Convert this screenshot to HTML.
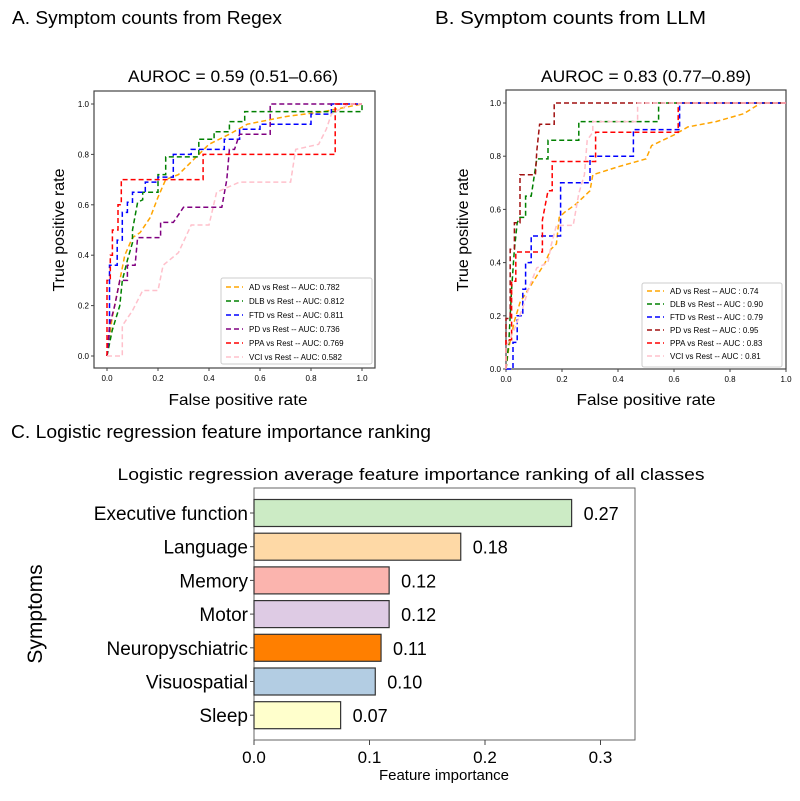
<!DOCTYPE html>
<html><head><meta charset="utf-8"><style>
body{margin:0;background:#fff;width:800px;height:796px;overflow:hidden}
svg{font-family:"Liberation Sans",sans-serif}
</style></head><body>
<svg id="fig" width="800" height="796" viewBox="0 0 800 796">
<text x="12" y="24" font-size="18" textLength="270" lengthAdjust="spacingAndGlyphs">A. Symptom counts from Regex</text>
<text x="435" y="24" font-size="18" textLength="271" lengthAdjust="spacingAndGlyphs">B. Symptom counts from LLM</text>
<text x="233" y="82" font-size="17" text-anchor="middle" textLength="210" lengthAdjust="spacingAndGlyphs">AUROC = 0.59 (0.51–0.66)</text>
<text x="646" y="82" font-size="17" text-anchor="middle" textLength="210" lengthAdjust="spacingAndGlyphs">AUROC = 0.83 (0.77–0.89)</text>
<text x="238" y="405" font-size="16" text-anchor="middle" textLength="139" lengthAdjust="spacingAndGlyphs">False positive rate</text>
<text x="646" y="405" font-size="16" text-anchor="middle" textLength="139" lengthAdjust="spacingAndGlyphs">False positive rate</text>
<text transform="translate(64,230) rotate(-90)" font-size="16" text-anchor="middle">True positive rate</text>
<text transform="translate(468,230) rotate(-90)" font-size="16" text-anchor="middle">True positive rate</text>
<text x="11" y="438" font-size="18" textLength="420" lengthAdjust="spacingAndGlyphs">C. Logistic regression feature importance ranking</text>
<text x="411" y="480" font-size="17" text-anchor="middle" textLength="587" lengthAdjust="spacingAndGlyphs">Logistic regression average feature importance ranking of all classes</text>
<text transform="translate(42,614) rotate(-90)" font-size="21" text-anchor="middle">Symptoms</text>
<text x="444" y="780" font-size="15" text-anchor="middle">Feature importance</text>
<g id="gA"></g><g id="gB"></g><g id="gC"></g>
</svg>
<script>
const seriesNames=["AD","DLB","FTD","PD","PPA","VCI"];
const colorsA=["orange","green","blue","purple","red","pink"];
const colorsB=["orange","green","blue","#a01010","red","pink"];
const aucA=["0.782","0.812","0.811","0.736","0.769","0.582"];
const aucB=["0.74","0.90","0.79","0.95","0.83","0.81"];
const rocA_AD=[[0,0],[0.02,0.15],[0.05,0.3],[0.07,0.4],[0.1,0.47],[0.13,0.49],[0.17,0.55],[0.2,0.63],[0.23,0.7],[0.28,0.72],[0.35,0.79],[0.4,0.84],[0.48,0.88],[0.55,0.92],[0.7,0.95],[0.85,0.97],[1,1]];
const rocA_DLB=[[0,0],[0.02,0.1],[0.05,0.2],[0.06,0.3],[0.08,0.38],[0.1,0.45],[0.1,0.5],[0.12,0.61],[0.14,0.62],[0.14,0.65],[0.2,0.65],[0.2,0.72],[0.23,0.72],[0.23,0.79],[0.36,0.79],[0.36,0.86],[0.42,0.86],[0.42,0.89],[0.48,0.89],[0.48,0.93],[0.54,0.93],[0.54,0.97],[1,0.97],[1,1]];
const rocA_FTD=[[0,0],[0.01,0.1],[0.01,0.36],[0.04,0.36],[0.04,0.46],[0.06,0.46],[0.06,0.57],[0.08,0.57],[0.08,0.61],[0.1,0.61],[0.1,0.65],[0.15,0.65],[0.15,0.69],[0.2,0.69],[0.2,0.71],[0.26,0.71],[0.26,0.8],[0.33,0.8],[0.33,0.82],[0.46,0.82],[0.46,0.86],[0.52,0.86],[0.52,0.9],[0.6,0.9],[0.6,0.92],[0.8,0.92],[0.8,0.96],[0.88,0.96],[0.88,1],[1,1]];
const rocA_PD=[[0,0],[0.01,0.12],[0.03,0.2],[0.05,0.3],[0.08,0.3],[0.08,0.36],[0.11,0.36],[0.12,0.47],[0.21,0.47],[0.21,0.53],[0.26,0.53],[0.3,0.59],[0.45,0.59],[0.47,0.7],[0.48,0.82],[0.5,0.82],[0.52,0.88],[0.64,0.88],[0.64,1],[1,1]];
const rocA_PPA=[[0,0],[0,0.3],[0.013,0.3],[0.013,0.4],[0.021,0.4],[0.021,0.5],[0.043,0.5],[0.043,0.6],[0.056,0.6],[0.056,0.7],[0.377,0.7],[0.377,0.8],[0.895,0.8],[0.895,1],[1,1]];
const rocA_VCI=[[0,0],[0.06,0],[0.06,0.12],[0.1,0.18],[0.14,0.26],[0.2,0.26],[0.22,0.36],[0.28,0.41],[0.33,0.52],[0.4,0.52],[0.43,0.65],[0.52,0.69],[0.72,0.69],[0.74,0.82],[0.83,0.84],[0.86,0.9],[0.88,0.96],[0.95,1],[1,1]];
const rocB_AD=[[0,0],[0.01,0.08],[0.03,0.18],[0.05,0.25],[0.08,0.3],[0.11,0.35],[0.14,0.4],[0.16,0.45],[0.18,0.47],[0.19,0.57],[0.21,0.59],[0.25,0.62],[0.3,0.67],[0.31,0.73],[0.4,0.76],[0.5,0.79],[0.52,0.84],[0.6,0.88],[0.65,0.91],[0.75,0.93],[0.85,0.96],[0.91,1],[1,1]];
const rocB_DLB=[[0,0],[0.01,0.1],[0.02,0.3],[0.03,0.45],[0.04,0.55],[0.05,0.57],[0.07,0.57],[0.07,0.65],[0.09,0.65],[0.1,0.72],[0.11,0.79],[0.15,0.79],[0.15,0.86],[0.26,0.86],[0.26,0.93],[0.545,0.93],[0.545,1],[1,1]];
const rocB_FTD=[[0,0],[0.025,0],[0.025,0.1],[0.04,0.1],[0.04,0.2],[0.06,0.2],[0.06,0.3],[0.07,0.3],[0.07,0.4],[0.09,0.4],[0.09,0.5],[0.195,0.5],[0.195,0.7],[0.3,0.7],[0.3,0.8],[0.455,0.8],[0.455,0.9],[0.62,0.9],[0.62,1],[1,1]];
const rocB_PD=[[0,0],[0,0.19],[0.015,0.19],[0.015,0.45],[0.03,0.45],[0.03,0.55],[0.05,0.55],[0.05,0.73],[0.105,0.73],[0.11,0.82],[0.12,0.92],[0.172,0.92],[0.172,1],[1,1]];
const rocB_PPA=[[0,0],[0,0.11],[0.02,0.11],[0.02,0.33],[0.035,0.33],[0.035,0.44],[0.13,0.44],[0.13,0.56],[0.15,0.67],[0.165,0.67],[0.165,0.78],[0.32,0.78],[0.32,0.89],[0.615,0.89],[0.615,1],[1,1]];
const rocB_VCI=[[0,0],[0,0.08],[0.03,0.15],[0.06,0.23],[0.08,0.3],[0.11,0.38],[0.15,0.4],[0.16,0.46],[0.18,0.54],[0.24,0.54],[0.26,0.66],[0.28,0.73],[0.29,0.86],[0.31,0.89],[0.31,0.93],[0.47,0.93],[0.47,1],[1,1]];
const rocTicks=[0,0.2,0.4,0.6,0.8,1.0];
const barCategories=["Executive function","Language","Memory","Motor","Neuropyschiatric","Visuospatial","Sleep"];
const barValues=[0.275,0.179,0.117,0.117,0.110,0.105,0.075];
const barLabels=["0.27","0.18","0.12","0.12","0.11","0.10","0.07"];
const barColors=["#ccebc5","#fed9a6","#fbb4ae","#decbe4","#ff7f00","#b3cde3","#ffffcc"];
const barTicks=[0,0.1,0.2,0.3];
const barTickLabels=["0.0","0.1","0.2","0.3"];

const NS="http://www.w3.org/2000/svg";
function mk(p,tag,at){const e=document.createElementNS(NS,tag);for(const k in at)e.setAttribute(k,at[k]);p.appendChild(e);return e;}

function roc(g,frame,xs,ys,series,colors,aucs,sep,leg,tickFs,key){
  mk(g,'rect',{x:frame[0],y:frame[1],width:frame[2]-frame[0],height:frame[3]-frame[1],fill:'none',stroke:'#444','stroke-width':1.2});
  rocTicks.forEach(t=>{
    const x=xs(t),y=ys(t);
    let e=mk(g,'line',{x1:x,x2:x,y1:frame[3],y2:frame[3]+3,stroke:'#444'});
    
    e=mk(g,'text',{x:x,y:frame[3]+13,'font-size':tickFs,'text-anchor':'middle'});e.textContent=t.toFixed(1);
    
    e=mk(g,'line',{x1:frame[0]-3,x2:frame[0],y1:y,y2:y,stroke:'#444'});
    
    e=mk(g,'text',{x:frame[0]-5,y:y+3,'font-size':tickFs,'text-anchor':'end'});e.textContent=t.toFixed(1);
    
  });
  series.forEach((s,i)=>{
    const d=s.map((p,j)=>(j?'L':'M')+xs(p[0]).toFixed(1)+','+ys(p[1]).toFixed(1)).join('');
    const e=mk(g,'path',{d:d,fill:'none',stroke:colors[i],'stroke-width':1.5,'stroke-dasharray':'5,3'});
    
    
  });
  const lg=mk(g,'g',{});
  
  mk(lg,'rect',{x:leg[0],y:leg[1],width:leg[2],height:leg[3],fill:'#fff','fill-opacity':0.85,stroke:'#ccc',rx:2});
  series.forEach((s,i)=>{
    const y=leg[4]+i*leg[5];
    const e=mk(lg,'g',{});
    
    
    mk(e,'line',{x1:leg[0]+5,x2:leg[0]+22,y1:y,y2:y,stroke:colors[i],'stroke-width':1.5,'stroke-dasharray':'5,3'});
    const t=mk(e,'text',{x:leg[0]+28,y:y+3,'font-size':8});
    t.textContent=seriesNames[i]+' vs Rest -- AUC'+sep+aucs[i];
  });
}
const gA=document.getElementById('gA');
roc(gA,[94,91,375,368],v=>107+v*255,v=>356-v*252,[rocA_AD,rocA_DLB,rocA_FTD,rocA_PD,rocA_PPA,rocA_VCI],colorsA,aucA,': ',[221,278,151,86,287,14],8,'panel-a');
const gB=document.getElementById('gB');
roc(gB,[506,90,786,369],v=>506+v*280,v=>369-v*266,[rocB_AD,rocB_DLB,rocB_FTD,rocB_PD,rocB_PPA,rocB_VCI],colorsB,aucB,' : ',[642,283,140,84,291,13],8,'panel-b');

const gC=document.getElementById('gC');
const cx=v=>254+v*1155, cy0=513, step=33.7, bh=27;
mk(gC,'rect',{x:254,y:488,width:381,height:252,fill:'none',stroke:'#666','stroke-width':1});
barTicks.forEach((t,i)=>{
  let e=mk(gC,'line',{x1:cx(t),x2:cx(t),y1:740,y2:745,stroke:'#444'});
  
  e=mk(gC,'text',{x:cx(t),y:763,'font-size':17,'text-anchor':'middle'});e.textContent=barTickLabels[i];
  
});
barCategories.forEach((c,i)=>{
  const y=cy0+i*step;
  let e=mk(gC,'rect',{x:cx(0),y:y-bh/2,width:cx(barValues[i])-cx(0),height:bh,fill:barColors[i],stroke:'#333','stroke-width':1.2});
  
  e=mk(gC,'text',{x:cx(barValues[i])+12,y:y+7,'font-size':18});e.textContent=barLabels[i];
  
  e=mk(gC,'text',{x:248,y:y+7,'font-size':19,'text-anchor':'end'});e.textContent=c;
  
  mk(gC,'line',{x1:250,x2:254,y1:y,y2:y,stroke:'#444'});
});
</script>
</body></html>
